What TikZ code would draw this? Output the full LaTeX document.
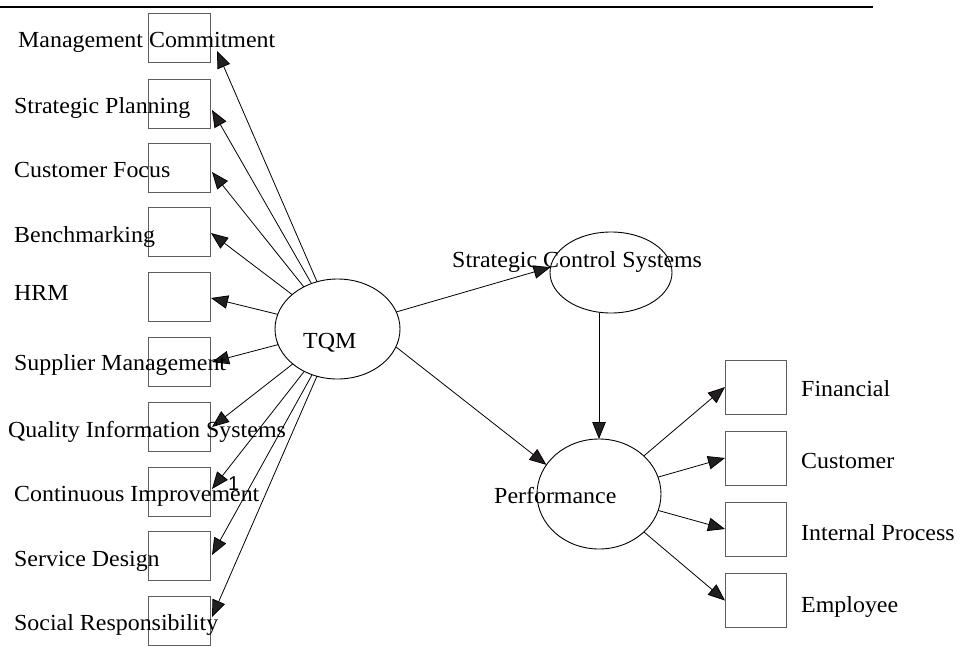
\documentclass[tikz,border=0pt]{standalone}
\usepackage{fontspec}
\setmainfont{Liberation Serif}[FakeStretch=1.04]
\newfontfamily\onefont{Liberation Sans}
\usetikzlibrary{shapes.geometric,arrows.meta}
\definecolor{boxgray}{HTML}{5E5E5E}
\definecolor{headcol}{HTML}{231F20}
\begin{document}
\begin{tikzpicture}[x=1pt,y=-1pt,
  obs/.style={draw=boxgray,line width=1pt,minimum width=62pt,minimum height=49pt,inner sep=0pt,outer sep=0pt},
  obsr/.style={obs,minimum width=61pt,minimum height=54pt},
  lat/.style={ellipse,draw=black,line width=0.9pt,inner sep=0pt,outer sep=0pt},
  lbl/.style={anchor=base west,inner sep=0pt,font=\fontsize{23}{27}\selectfont},
  conn/.style={draw=black,line width=0.8pt,-{Triangle[length=17pt,width=13.5pt,fill=headcol]}}]
\useasboundingbox (0,0) rectangle (960,645);
\draw[line width=2pt] (0,6.5) -- (873,6.5);

% left observed boxes
\node[obs] (b1) at (179,37.5) {};
\node[obs] (b2) at (179,103.5) {};
\node[obs] (b3) at (179,167.5) {};
\node[obs] (b4) at (179,231.5) {};
\node[obs] (b5) at (179,297) {};
\node[obs] (b6) at (179,361.5) {};
\node[obs] (b7) at (179,426.5) {};
\node[obs] (b8) at (179,491.5) {};
\node[obs] (b9) at (179,555.5) {};
\node[obs] (b10) at (179,621) {};

% latent variables
\node[lat,minimum width=125pt,minimum height=100pt] (tqm) at (337.5,329) {};
\node[lat,minimum width=122pt,minimum height=81pt] (scs) at (611,272.5) {};
\node[lat,minimum width=124pt,minimum height=110pt] (perf) at (599,494) {};

% right observed boxes
\node[obsr] (r1) at (755.5,387) {};
\node[obsr] (r2) at (755.5,458) {};
\node[obsr] (r3) at (755.5,529) {};
\node[obsr] (r4) at (755.5,600.5) {};

% arrow tips on the left
\coordinate (t1) at (217,51);
\coordinate (t2) at (212,110);
\coordinate (t3) at (212,172);
\coordinate (t4) at (211,233);
\coordinate (t5) at (211,298);
\coordinate (t6) at (212,362);
\coordinate (t7) at (212,427);
\coordinate (t8) at (212,489);
\coordinate (t9) at (212,555);
\coordinate (t10) at (212,617);

\foreach \i in {1,...,10} { \draw[conn] (tqm) -- (t\i); }

\draw[conn] (tqm) -- (scs.175);
\draw[conn] (tqm.343) -- (perf.151);
\coordinate (scsbot) at (599,313);
\draw[conn] (scsbot) -- (perf.north);
\draw[conn] (perf) -- (r1.west);
\draw[conn] (perf) -- (r2.west);
\draw[conn] (perf) -- (r3.west);
\draw[conn] (perf) -- (r4.west);

% labels
\node[lbl] (l1) at (18,47) {Management Commitment};
\node[lbl] (l2) at (14,113) {Strategic Planning};
\node[lbl] (l3) at (14,177) {Customer Focus};
\node[lbl] (l4) at (14,242) {Benchmarking};
\node[lbl] (l5) at (14,300) {HRM};
\node[lbl] (l6) at (14,370) {Supplier Management};
\node[lbl] (l7) at (8,437) {Quality Information Systems};
\node[lbl] (l8) at (14,501) {Continuous Improvement};
\node[lbl] (l9) at (14,566) {Service Design};
\node[lbl] (l10) at (14,630) {Social Responsibility};

\node[lbl] (ltqm) at (303,348) {TQM};
\node[lbl] (lscs) at (452,267) {Strategic Control Systems};
\node[lbl] (lperf) at (494,503) {Performance};

\node[lbl] (lr1) at (801,396) {Financial};
\node[lbl] (lr2) at (801,468) {Customer};
\node[lbl] (lr3) at (801,540) {Internal Process};
\node[lbl] (lr4) at (801,612) {Employee};

\node[anchor=base west,inner sep=0pt,font=\onefont\fontsize{20}{24}\selectfont] (one) at (228,490) {1};
\end{tikzpicture}
\end{document}
